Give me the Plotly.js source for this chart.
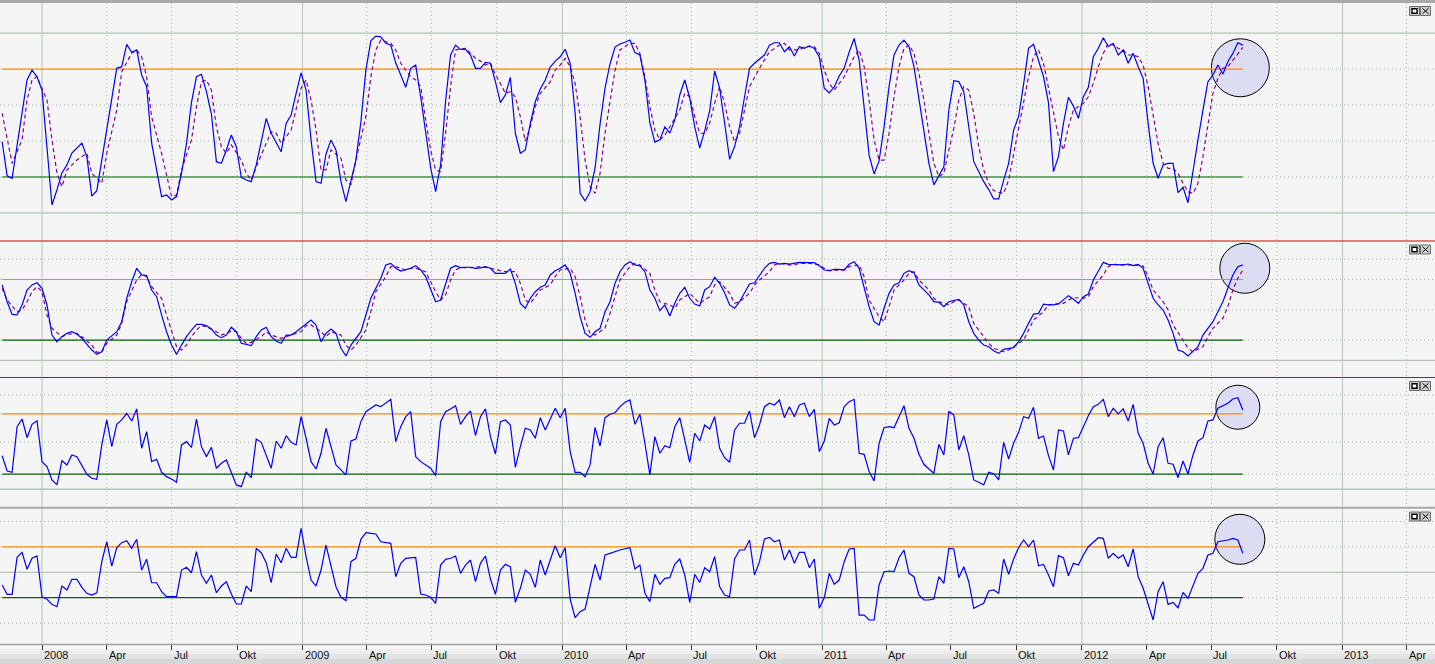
<!DOCTYPE html>
<html><head><meta charset="utf-8">
<script src="https://cdn.plot.ly/plotly-3.0.1.min.js"></script>
<style>html,body{margin:0;padding:0;background:#f5f5f5;overflow:hidden}#chart{width:1435px;height:664px}</style>
</head><body><div id="chart"></div>
<script>
// weekly bars, week 0 = 2007-11-06
const startDate = '2007-11-06';
const lastWeek = 249;

// Panel 1: stochastic %K (solid) and %D (dashed)
const p1K = [[0,39.6],[1,20.6],[2,19.3],[4,57.2],[5,73.9],[6,79.4],[7,75.7],[8,68.3],[9,35],[10,4.4],[11,12.8],[12,22.2],[13,26.7],[14,33.3],[16,38.9],[17,31.3],[18,9.4],[19,12.4],[20,29.4],[21,46.7],[22,62.8],[23,80.4],[24,81.3],[25,93.7],[26,89.3],[27,90.6],[28,76.7],[29,70.2],[30,38.9],[31,23.9],[32,9.1],[33,10],[34,7.2],[35,9.1],[36,22],[37,38.7],[38,61.5],[39,75.7],[40,77.1],[41,67.4],[42,55],[43,28.5],[44,27.6],[45,35],[46,43.3],[47,36.8],[48,19.8],[49,18.3],[50,17.4],[51,26.7],[52,38.9],[53,52.6],[54,44.3],[55,38.7],[56,34],[57,49.8],[58,54.4],[59,66.5],[60,77.9],[61,68.3],[62,40.6],[63,17.4],[64,16.5],[65,32.8],[66,40.6],[67,35],[68,17.4],[69,6.3],[70,18.3],[71,29.4],[72,50.6],[73,79.4],[74,95.7],[75,98.3],[76,97.9],[77,94.3],[78,93.3],[79,83.3],[80,76.7],[81,69.8],[82,80.4],[83,82.2],[84,64.6],[85,46.1],[86,25.2],[87,11.8],[88,26.7],[89,62.2],[90,87.8],[91,93.3],[92,90.9],[93,90.9],[94,87.8],[95,80.4],[96,80.4],[97,83.7],[98,83.2],[99,73],[100,61.3],[101,65.6],[102,75.4],[103,44.3],[104,33.2],[105,35],[106,49.8],[107,61.8],[108,68.9],[109,73.9],[110,81.1],[111,84.4],[112,86.8],[113,91],[114,83.2],[115,55.6],[116,10.9],[117,6.7],[118,11.8],[119,25],[120,49.4],[121,69.4],[122,82.8],[123,92.2],[124,93.9],[125,94.9],[126,96.1],[127,89.1],[128,87.8],[129,73.9],[130,50],[131,39.4],[132,40.6],[133,47.8],[134,44.4],[135,51.7],[136,65.6],[137,73.9],[138,63.9],[139,47.8],[140,36.1],[141,45.6],[142,56.7],[143,78.9],[144,69.4],[145,50],[146,29.8],[147,36.9],[148,47.9],[149,64.6],[150,80.4],[151,83.2],[152,85.3],[153,87.8],[154,93.3],[155,94.6],[156,94.6],[157,89.6],[158,92.4],[159,87.2],[160,92.4],[161,91.5],[162,92.9],[163,91.5],[164,86.7],[165,69.3],[166,66.7],[167,70],[168,76.1],[169,80.6],[170,89.4],[171,97],[172,85],[173,59.1],[174,32.2],[175,21.7],[176,28.9],[177,47.9],[178,70.2],[179,87.8],[180,93.3],[181,96.1],[182,92.4],[183,81.3],[184,62.8],[185,44.3],[186,27.6],[187,15.6],[188,21.1],[189,25.7],[190,57.2],[191,73.5],[192,73],[193,67.4],[194,47.9],[195,28.5],[197,17.4],[198,13],[199,7.8],[200,7.8],[201,18.3],[202,27.6],[203,46.1],[204,53.5],[205,71.5],[206,91.5],[207,93.7],[208,85],[209,75.7],[210,61.3],[211,23],[212,31.3],[213,49.8],[214,64.3],[215,59.4],[216,52.6],[217,64.6],[218,69.8],[219,86.8],[220,91.5],[221,97.4],[222,92.4],[223,94.3],[224,87.8],[225,90.6],[226,83.2],[227,88.7],[228,81.3],[229,74.8],[230,49.8],[231,27.6],[232,19.3],[233,26.7],[234,27.6],[235,27.6],[236,11.3],[237,14.3],[238,5.7],[239,22],[240,40.6],[241,57.2],[242,73],[243,76.7],[244,82.2],[245,77.2],[246,84.1],[247,88.7],[248,94.6],[249,93.3]];
const p1D = [[0,55.4],[2,27.6],[4,40.6],[5,62.8],[6,73.9],[7,75.7],[9,62.8],[10,40.6],[11,22.2],[12,14.6],[13,23.9],[15,29.4],[16,31.3],[17,33.2],[18,22],[20,16.5],[21,33.2],[23,57.2],[24,78.5],[26,88.7],[27,90.6],[28,86.8],[29,75.7],[30,53.5],[32,33.2],[33,20.2],[34,9.1],[35,10],[36,23.9],[38,40.6],[39,59.1],[40,72.9],[41,73.9],[42,68.3],[43,47.9],[44,36.8],[45,33.2],[46,37.8],[48,29.4],[49,22],[50,18.3],[51,25.7],[53,38.7],[54,45.2],[55,44.3],[56,38.7],[58,46.1],[59,57.2],[60,69.3],[61,73.9],[62,62.8],[63,46.1],[64,23.9],[65,23.9],[66,35],[68,30.4],[69,18.3],[70,15.6],[71,29.4],[73,53.5],[74,75.7],[75,90.6],[76,96.1],[78,94.3],[79,90.6],[80,83.2],[81,79.4],[82,75.7],[83,73.9],[84,70.2],[85,51.7],[86,35],[87,23.9],[88,22.9],[89,44.3],[90,70.2],[91,90.6],[93,91.5],[94,88.7],[95,86],[96,84.4],[97,82.2],[98,83.2],[99,77],[100,72],[101,66.5],[102,67.4],[103,64.6],[104,53.5],[105,40],[106,47.9],[107,59.1],[108,66.5],[110,72.9],[111,79.4],[112,82.2],[113,85.9],[114,81.3],[115,72],[116,53.5],[117,29.4],[118,14.6],[119,10.9],[120,22],[121,44.3],[122,62.8],[123,79.4],[124,90.6],[126,94.3],[127,94.3],[128,88.7],[129,75.7],[130,59.1],[131,46.1],[132,40.6],[133,43.3],[134,47.9],[136,57.2],[137,66.5],[138,64.6],[139,53.5],[140,44.3],[141,44.3],[142,49.8],[143,60.9],[144,70.2],[145,60.9],[146,47.9],[147,39.6],[148,44.3],[149,57.2],[150,70.2],[152,80.4],[153,85],[154,89.6],[156,93.3],[157,94.3],[158,90.6],[159,90.6],[160,90.6],[161,92.4],[163,92.4],[164,88.7],[165,79.4],[166,72],[167,68.3],[168,72],[169,75.7],[170,81.3],[171,86.8],[172,90.6],[173,81.3],[174,62.8],[175,40.6],[176,29.4],[177,29.4],[178,44.3],[179,64.6],[180,81.3],[181,91.5],[182,93.3],[183,88.7],[184,77.6],[185,62.8],[186,44.3],[187,27.6],[188,20.2],[189,22],[190,35],[191,47],[192,62.8],[193,70.2],[194,68.3],[195,55.4],[196,36.8],[197,23.9],[198,16.5],[199,12.5],[200,11.5],[201,10.9],[202,18.3],[203,33.2],[204,46.1],[205,60.9],[206,75.7],[207,86.8],[208,90.6],[209,83.2],[210,70.2],[211,55.4],[212,42.4],[213,35],[214,47.9],[215,57.2],[216,59.1],[217,60.9],[218,64.6],[219,72],[220,81.3],[221,88.7],[222,94.3],[223,93.3],[224,91.5],[225,90.6],[226,87.8],[227,87.8],[228,86.8],[229,82.2],[230,70.2],[231,53.5],[232,38.7],[233,27.6],[234,24.8],[235,24.8],[236,22],[237,16.5],[238,11.8],[239,10.9],[240,16.5],[241,31.3],[242,49.8],[243,66.5],[244,74.8],[245,80.4],[246,81.3],[247,85],[248,88.7],[249,92]];

// Panel 2: slow stochastic (solid) and signal (dashed)
const p2K = [[0,74.6],[1,58],[2,45.5],[3,44.9],[4,54.8],[5,69.6],[6,74.6],[7,76.8],[8,71.3],[9,54.8],[10,25],[11,18.4],[12,23.4],[13,26.7],[14,28.3],[15,26],[16,21.8],[18,10.2],[19,5.9],[20,8.5],[21,20.1],[23,28.3],[24,38.2],[25,61.4],[26,77.8],[27,91.1],[28,84.5],[29,83.8],[30,69.6],[31,63],[32,44.9],[33,28.3],[34,15.1],[35,5.9],[36,15.1],[37,23.4],[38,30],[39,35.6],[40,35.6],[41,34.3],[42,31],[43,25],[44,22.4],[45,25],[46,32.7],[47,28.3],[48,16.8],[49,15.8],[50,14.5],[51,23.4],[52,30],[53,32.7],[54,23.4],[55,19.1],[56,16.8],[57,25],[58,25],[59,28.3],[61,36.6],[62,39.9],[63,35],[64,18.4],[65,26.7],[66,31],[67,26.7],[68,11.9],[69,4.3],[70,15.1],[72,28.3],[73,44.9],[74,61.4],[76,81.2],[77,94.4],[78,96],[79,91.1],[80,88.4],[82,91.1],[83,93.7],[84,89.4],[85,82.8],[86,69.6],[87,58],[88,59.7],[89,74.6],[90,91.1],[91,93.7],[92,91.7],[93,92.1],[94,92.1],[95,91.1],[96,91.5],[97,92.7],[98,91.1],[99,86.1],[101,86.1],[102,90.4],[103,76.2],[104,56.4],[105,51.5],[106,61.4],[107,67.9],[108,72.3],[109,74.6],[110,84.5],[111,88.7],[112,91.1],[113,94.4],[114,86.1],[115,66.3],[116,43.2],[117,26.7],[118,22.8],[119,28.3],[120,31.7],[121,48.1],[122,58],[123,76.2],[124,87.7],[125,94.4],[126,97.6],[127,94.4],[128,93.4],[129,87.7],[130,69.6],[131,61.4],[132,49.1],[133,54.8],[134,43.9],[135,56.4],[136,66.3],[137,72.3],[138,61.4],[139,55.7],[140,53.8],[141,69.6],[142,72.9],[143,82.2],[144,76.2],[145,66.9],[146,54.8],[147,51.5],[148,58],[149,66.3],[150,75.5],[151,76.8],[152,84.5],[153,91.1],[154,96],[155,97],[156,95.3],[157,96],[158,95.3],[159,96],[160,97],[162,96.6],[163,96.6],[164,93.7],[165,89.4],[166,88.7],[167,90.1],[168,90.1],[169,89.4],[170,95],[171,97.6],[172,91.1],[173,72.9],[174,53.1],[175,38.2],[176,35],[177,51.5],[178,66.3],[179,74.6],[180,76.8],[181,86.1],[182,88.7],[183,86.7],[184,74.6],[186,64.7],[187,58],[188,57.4],[189,53.1],[190,58],[191,59],[192,60.4],[193,54.8],[194,38.2],[195,26.7],[196,20.1],[197,15.1],[198,13.5],[199,9.5],[200,6.9],[201,10.9],[202,11.9],[203,12.5],[204,18.4],[205,26.7],[206,36.6],[207,45.8],[208,46.5],[209,55.7],[210,54.8],[211,54.8],[212,55.7],[213,59.7],[214,64],[215,60.4],[216,56.4],[217,63],[218,65.6],[219,79.5],[220,87.7],[221,97],[222,95],[223,95],[224,94.4],[225,94.4],[226,95.3],[227,93.7],[228,95],[229,91.1],[230,76.2],[231,61.4],[232,54.8],[233,49.8],[234,39.9],[235,26.7],[236,10.2],[237,8.5],[238,4.3],[239,8.5],[240,13.5],[241,25],[242,31.7],[243,38.2],[244,48.1],[245,58],[246,71.3],[247,84.5],[248,92.7],[249,94.4]];
const p2D = [[0,71.3],[1,59.7],[3,48.1],[4,49.8],[5,58],[6,67.9],[7,72.9],[8,67.9],[9,44.9],[10,31.7],[12,23.4],[13,25.7],[15,26.7],[16,23.4],[18,15.1],[19,7.9],[20,8.5],[21,16.8],[23,25],[24,36.6],[25,58],[27,79.5],[28,85.1],[29,82.8],[30,72.9],[32,61.4],[33,44.9],[34,28.3],[35,13.5],[36,10.2],[37,15.1],[38,23.4],[39,30],[40,34.3],[41,33.3],[43,28.3],[44,25],[45,26.7],[46,29],[47,28.3],[48,21.8],[49,16.8],[50,17.8],[52,23.4],[53,28.3],[54,25],[56,21.8],[57,23.4],[58,25],[60,28.3],[61,34.3],[62,35],[64,28.3],[65,23.4],[66,28.3],[68,25],[69,15.1],[70,10.2],[71,15.1],[73,30],[74,48.1],[75,67.9],[77,82.8],[78,92.7],[79,92.7],[81,89.4],[82,91.1],[83,91.1],[85,87.7],[86,77.8],[87,67.9],[88,59.7],[89,64.7],[90,79.5],[91,89.4],[92,91.7],[94,91.7],[96,92.7],[98,91.1],[100,88.7],[101,87.7],[103,87.7],[104,76.2],[105,59.7],[106,56.4],[107,63],[108,69.6],[110,74.6],[111,82.8],[112,89.4],[114,91.1],[115,82.8],[116,63],[117,39.9],[118,26.7],[119,25],[121,31.7],[122,46.5],[123,63],[124,79.5],[126,92.7],[127,96],[128,94.4],[130,86.1],[131,69.6],[132,58],[134,54.8],[135,51.5],[136,59.7],[138,66.3],[139,61.4],[140,56.4],[142,63],[143,74.6],[144,77.8],[146,66.3],[147,56.4],[148,58],[150,66.3],[151,74.6],[152,79.5],[154,87.7],[155,94.4],[156,96],[158,94.4],[159,94.4],[160,96],[162,96],[164,94.4],[165,91.1],[166,88.7],[168,89.4],[169,89.4],[170,92.7],[172,94.4],[173,82.8],[174,59.7],[176,43.2],[177,38.2],[178,53.1],[179,69.6],[181,79.5],[182,86.1],[183,87.7],[184,79.5],[186,69.6],[187,61.4],[188,58],[190,54.8],[191,58],[192,59.7],[194,53.1],[195,36.6],[197,23.4],[198,16.8],[199,11.9],[201,8.5],[202,10.2],[203,13.5],[205,20.1],[206,30],[207,39.9],[209,48.1],[210,54.8],[211,55.7],[213,56.4],[214,59.7],[215,62],[217,61.4],[218,63],[219,72.9],[221,84.5],[222,92.7],[223,95],[225,94.4],[226,94.4],[227,94.4],[229,93.4],[230,82.8],[231,69.6],[233,58],[234,49.8],[235,35],[237,20.1],[238,11.9],[239,8.5],[241,13.5],[242,23.4],[243,31.7],[245,41.6],[246,53.1],[247,69.6],[248,81.2],[249,89.4]];

// Panel 3: oscillator
const p3V = [[0,35.6],[1,19.4],[2,18],[3,66.4],[4,74.5],[5,54.7],[6,68.9],[7,72.7],[8,29.3],[9,24],[10,9.9],[11,4.6],[12,30.3],[13,25.8],[14,36.4],[15,34.6],[17,15.9],[18,11.7],[19,10.6],[20,47],[21,73.5],[22,45.2],[23,68.9],[24,73.5],[25,80.6],[26,72.4],[27,85.2],[28,43.5],[29,61.1],[30,29.3],[31,31.8],[32,18],[33,13.4],[34,10.9],[35,7.4],[36,47],[37,50.5],[38,44.5],[39,74.5],[40,45.2],[41,34.6],[42,44.5],[43,22.3],[44,27.6],[45,31.1],[46,17],[47,4.6],[48,2.8],[49,18],[50,12.3],[51,53.3],[52,49.8],[53,36.4],[54,22.3],[55,51.2],[56,43.5],[57,56.8],[58,49.8],[59,47],[60,77],[61,54.1],[62,29.3],[63,21.5],[64,38.2],[65,64.7],[66,45.2],[67,25.8],[68,20.5],[69,15.2],[70,51.2],[71,53.3],[72,71.7],[73,82.3],[74,85.9],[75,89.4],[76,87.6],[77,91.2],[78,95.4],[79,50.5],[80,66.4],[81,77],[82,82.3],[83,34.6],[84,29.3],[86,22.3],[87,14.4],[88,71.7],[89,82.3],[90,85.2],[91,88.7],[92,68.9],[93,77],[94,83],[95,56.8],[96,77],[97,85.2],[98,55.8],[99,37.4],[100,71.7],[101,73.5],[102,68.2],[103,23.3],[104,45.2],[105,64.7],[106,62.9],[107,54.1],[108,75.9],[109,62.9],[111,85.9],[112,75.9],[113,85.9],[114,39.9],[115,18],[116,18],[117,13.4],[118,25.8],[119,65.7],[120,45.9],[121,75.9],[122,79.5],[123,81.2],[124,87.6],[125,92.3],[126,94.7],[127,68.9],[128,79.5],[129,48.8],[130,15.2],[131,55.8],[132,38.2],[133,46.2],[134,44.1],[135,66.4],[136,75.9],[137,52.3],[138,28.6],[139,59.4],[140,51.2],[141,68.2],[142,63.9],[143,77],[144,43.5],[145,33.5],[146,28.6],[147,62.9],[148,70],[149,70],[150,83],[151,54.7],[152,68.2],[153,87.6],[154,91.2],[155,89.4],[156,94.7],[157,75.9],[158,87.6],[159,77],[160,89.4],[161,91.2],[162,77],[163,84.8],[164,39.9],[165,51.2],[166,75.3],[167,68.2],[168,70.6],[169,87.6],[170,92.9],[171,95.4],[172,38.2],[173,37.1],[174,18.7],[175,8.8],[176,48.8],[177,65.3],[178,66.4],[179,65.3],[180,77],[181,88.7],[182,64.7],[183,54.1],[184,37.1],[185,26.5],[186,21.5],[187,17],[188,47.7],[189,36.4],[190,82.3],[191,78.8],[192,41.7],[193,56.8],[194,36.4],[195,9.9],[196,7.4],[197,4.6],[198,18],[199,16.5],[200,9.9],[201,49.8],[202,32.1],[203,48.8],[204,60.4],[205,77],[206,75.3],[207,87],[208,54.1],[209,56.5],[210,35.6],[211,20.5],[212,62.9],[213,61.8],[214,36.4],[215,54.1],[216,54.7],[217,66.4],[218,78],[219,87.6],[220,90.1],[221,95.4],[222,77],[223,85.9],[224,79.9],[225,85.2],[226,72.4],[227,90.1],[228,59.4],[229,48.8],[230,27.6],[231,16.2],[232,45.2],[233,54.7],[234,27.6],[235,26.5],[236,12.3],[237,30],[238,16.2],[239,36.4],[240,51.2],[241,54.7],[242,72.4],[243,73.5],[244,85.9],[246,91.2],[247,95.8],[248,97.1],[249,84.1]];

// Panel 4: centred oscillator
const p4V = [[0,-25],[1,-43.3],[2,-43.3],[3,29.5],[4,39.4],[5,5.9],[6,27.6],[7,32.1],[8,-48],[9,-53.1],[10,-63],[11,-67.7],[12,-27],[13,-34.8],[14,-13.8],[15,-13.8],[16,-29.5],[17,-41.3],[18,-44.7],[19,-40.2],[20,20.9],[21,60.2],[22,12.4],[23,48.4],[24,58.3],[25,62.2],[26,47.2],[27,65],[28,4.5],[29,25.6],[30,-20.5],[31,-20.5],[32,-38.2],[33,-48],[35,-48],[36,4.5],[37,9.8],[38,-0.8],[39,40.6],[40,-5.3],[41,-21.7],[42,-5.3],[43,-40.2],[44,-27],[45,-18.5],[46,-42.7],[47,-62.4],[48,-62.4],[49,-27],[50,-38.2],[51,47.2],[52,38.6],[53,18.9],[54,-20.5],[55,36],[56,18.9],[57,47.2],[58,29.5],[59,29.5],[60,86.6],[61,30.7],[62,-15.2],[63,-27],[64,4.5],[65,53.7],[66,11],[67,-28.3],[68,-49.2],[69,-55.9],[70,20.9],[71,27.6],[72,65],[73,78],[74,76.8],[75,75.4],[76,60.2],[77,58.3],[78,57.1],[79,-8.7],[80,17.7],[81,27.6],[83,29.5],[84,-42.7],[85,-44.7],[86,-49.2],[87,-61],[88,14.4],[89,25.6],[90,27.6],[91,32.1],[92,-2],[93,14.4],[94,24.2],[95,-18.5],[96,17.7],[97,32.1],[98,-13.2],[99,-43.3],[100,4.5],[101,15.7],[102,11],[103,-59.1],[104,-31.5],[105,4.5],[106,-3.9],[107,-29.5],[108,24.2],[109,-5.3],[110,24.2],[111,52.4],[112,28.7],[113,48.4],[114,-52.6],[115,-89.4],[116,-77.6],[117,-72.2],[118,-28.3],[119,15.7],[120,-15.2],[121,34.1],[122,37.4],[123,40.6],[124,43.9],[126,48.4],[127,6.5],[128,14.4],[129,-41.3],[130,-57.9],[131,-3.9],[132,-23.6],[133,-11.8],[134,-10.6],[135,15.7],[136,26.2],[137,-5.3],[138,-59.1],[139,-3.9],[140,-19.7],[141,9.1],[142,1.2],[143,30.7],[144,-28.3],[145,-44.7],[146,-48],[147,26.2],[148,43.9],[149,43.9],[150,63.6],[151,-5.3],[152,20.9],[153,65.6],[154,68.9],[155,60.2],[156,63.6],[157,24.2],[158,43.9],[159,17.7],[160,39.4],[161,39.4],[162,9.1],[163,26.2],[164,-70.9],[165,-50],[166,-2],[167,-23.6],[168,-15.2],[169,20.9],[170,45.9],[171,47.2],[172,-84.1],[173,-84.1],[174,-93.9],[175,-93.9],[176,-25],[177,1.2],[178,2.6],[179,1.2],[180,28.7],[181,43.9],[182,-2],[183,-8.7],[184,-44.7],[185,-54.5],[186,-54.5],[187,-52.6],[188,-8.7],[189,-21.7],[190,47.2],[191,45.9],[192,-10.6],[193,11],[194,-18.5],[195,-70.9],[196,-65.7],[197,-61],[198,-36.8],[199,-34.8],[200,-41.3],[201,26.2],[202,-3.9],[203,26.2],[204,48.4],[205,63.6],[206,50.4],[207,63.6],[208,13],[209,15.7],[210,-5.3],[211,-28.3],[212,32.7],[213,28.7],[214,-6.7],[215,17.7],[216,14.4],[217,34.1],[218,50.4],[220,68.1],[221,66.9],[222,27.6],[223,37.4],[224,27.6],[225,34.1],[226,11],[227,45.9],[228,-8.7],[229,-31.5],[230,-64.4],[231,-93.9],[232,-38.2],[233,-18.5],[234,-63],[235,-59.1],[236,-69.7],[237,-39.4],[238,-51.2],[239,-25],[240,-2],[241,7.9],[242,34.1],[243,37.4],[244,60.2],[246,63.6],[247,66.9],[248,63.6],[249,37.4]];

// Axis tick labels
const tickDates = ['2008-01-01','2008-04-01','2008-07-01','2008-10-01','2009-01-01','2009-04-01','2009-07-01','2009-10-01','2010-01-01','2010-04-01','2010-07-01','2010-10-01','2011-01-01','2011-04-01','2011-07-01','2011-10-01','2012-01-01','2012-04-01','2012-07-01','2012-10-01','2013-01-01','2013-04-01'];
const tickLabels = ['2008','Apr','Jul','Okt','2009','Apr','Jul','Okt','2010','Apr','Jul','Okt','2011','Apr','Jul','Okt','2012','Apr','Jul','Okt','2013','Apr'];

// Reference levels per panel
const p1Levels = {over:80, under:20};
const p2Levels = {over:80, under:20};
const p3Levels = {over:80, under:16};
const p4Levels = {over:50, under:-50};
// marker circles (week, value) at the end of each series
const circleMarks = [{w:248.5, v:80.7}, {w:249.4, v:91.1}, {w:248, v:87}, {w:248.4, v:65}];

// ---------- build ----------
const W = 1435, H = 644;
const t0 = Date.UTC(2007, 10, 6);
function wkDate(w){
  const d = new Date(t0 + w*7*864e5);
  return d.toISOString().slice(0,19).replace('T',' ');
}
const px = x => x / W;
const py = y => 1 - y / H;

const panels = [
  {top:3,     bot:240.5, range:[-15.3,116.7], solid:[0,100], dotted:[20,40,60,80], lev:p1Levels, r:29},
  {top:241.5, bot:377,   range:[-16.5,117.6], solid:[0],     dotted:[20,50,80,100], lev:p2Levels, r:25},
  {top:378,   bot:507,   range:[-18.8,118],   solid:[0],     dotted:[16,50,80,100], lev:p3Levels, r:22},
  {top:508.5, bot:644,   range:[-141.1,125.6],solid:[0],     dotted:[-100,-50,50,100], lev:p4Levels, r:25}
];

const BLUE = '#0000ff', PURPLE = '#8b008b', ORANGE = '#ff8c00', GREEN = '#006400';
const GRIDS = '#b3c6b3', GRIDD = '#9fb89f';

function tr(arr, yax, color, dash){
  return {x: arr.map(p => wkDate(p[0])), y: arr.map(p => p[1]), xaxis:'x', yaxis:yax,
    type:'scatter', mode:'lines', line:{color:color, width:1.2, dash:dash||'solid'}, hoverinfo:'skip'};
}
const data = [
  tr(p1D,'y','#8b008b','4px,3px'), tr(p1K,'y',BLUE),
  tr(p2D,'y2','#8b008b','4px,3px'), tr(p2K,'y2',BLUE),
  tr(p3V,'y3',BLUE),
  tr(p4V,'y4',BLUE)
];

const layout = {
  width:W, height:664, margin:{l:0,r:0,t:0,b:20,pad:0},
  paper_bgcolor:'#f5f5f5', plot_bgcolor:'#f5f5f5', showlegend:false,
  font:{family:'Liberation Sans, Arial, sans-serif', size:11, color:'#111'},
  xaxis:{type:'date', range:['2007-11-03','2013-05-11'], anchor:'y4', showgrid:false, zeroline:false,
    showline:false, showticklabels:false, ticks:'outside', ticklen:5, tickwidth:1, tickcolor:'#333',
    tickmode:'array', tickvals:tickDates, fixedrange:true},
  shapes:[], annotations:[]
};
const yNames = ['yaxis','yaxis2','yaxis3','yaxis4'];
const yRefs = ['y','y2','y3','y4'];
panels.forEach((p,i) => {
  layout[yNames[i]] = {domain:[py(p.bot), py(p.top)], range:p.range, anchor:'x', showgrid:false,
    zeroline:false, showticklabels:false, ticks:'', showline:false, fixedrange:true};
});

const S = layout.shapes;
// vertical grid
tickDates.forEach((d,i) => {
  const isYear = /^\d{4}$/.test(tickLabels[i]);
  S.push({type:'line', xref:'x', yref:'paper', x0:d, x1:d, y0:0, y1:1, layer:'below',
    line:{color:isYear?GRIDS:GRIDD, width:1, dash:isYear?'solid':'1px,3px'}});
});
panels.forEach((p,i) => {
  const yr = yRefs[i];
  p.solid.forEach(v => S.push({type:'line', xref:'paper', yref:yr, x0:0, x1:1, y0:v, y1:v, layer:'below',
    line:{color:GRIDS, width:1.3}}));
  p.dotted.forEach(v => S.push({type:'line', xref:'paper', yref:yr, x0:0, x1:1, y0:v, y1:v, layer:'below',
    line:{color:GRIDD, width:1, dash:'1px,3px'}}));
  const c = circleMarks[i];
  S.push({type:'circle', xref:'x', yref:yr, xsizemode:'pixel', ysizemode:'pixel',
    xanchor:wkDate(c.w), yanchor:c.v, x0:-p.r, x1:p.r, y0:-p.r, y1:p.r, layer:'below',
    fillcolor:'#dcdcf2', line:{color:'#000', width:1}});
  S.push({type:'line', xref:'x', yref:yr, x0:wkDate(0), x1:wkDate(lastWeek), y0:p.lev.over, y1:p.lev.over,
    layer:'below', line:{color:ORANGE, width:1.2}});
  S.push({type:'line', xref:'x', yref:yr, x0:wkDate(0), x1:wkDate(lastWeek), y0:p.lev.under, y1:p.lev.under,
    layer:'below', line:{color:GREEN, width:1.2}});
});
// frame / separators
S.push({type:'rect', xref:'paper', yref:'paper', x0:0, x1:1, y0:py(3), y1:1, layer:'above', line:{width:0}, fillcolor:'#a9a9a9'});
S.push({type:'line', xref:'paper', yref:'paper', x0:0, x1:1, y0:py(241), y1:py(241), layer:'above', line:{color:'#e00000', width:1.2}});
S.push({type:'line', xref:'paper', yref:'paper', x0:0, x1:1, y0:py(377.5), y1:py(377.5), layer:'above', line:{color:'#e00000', width:1.2}});
S.push({type:'line', xref:'paper', yref:'paper', x0:0, x1:1, y0:py(507.7), y1:py(507.7), layer:'above', line:{color:'#a9a9a9', width:2}});
// bottom strip gradient
const bands = [['#f7f7f7',644,649],['#efefef',649,654],['#e4e4e4',654,659],['#d6d6d6',659,664]];
bands.forEach(b => S.push({type:'rect', xref:'paper', yref:'paper', x0:0, x1:1, y0:py(b[2]), y1:py(b[1]), layer:'below', line:{width:0}, fillcolor:b[0]}));
S.push({type:'line', xref:'paper', yref:'paper', x0:0, x1:1, y0:py(644.5), y1:py(644.5), layer:'above', line:{color:'#a0a0a0', width:1.6}});
// window buttons
panels.forEach(p => {
  const y0 = p.top + 3.5, y1 = p.top + 12.5;
  [[1409.5,1419.5],[1420.5,1430.5]].forEach((bx,k) => {
    S.push({type:'rect', xref:'paper', yref:'paper', x0:px(bx[0]), x1:px(bx[1]), y0:py(y1), y1:py(y0), layer:'above',
      fillcolor:'#cfcfcf', line:{color:'#6a6a6a', width:1}});
    if (k === 0) {
      S.push({type:'rect', xref:'paper', yref:'paper', x0:px(bx[0]+2.5), x1:px(bx[1]-2.5), y0:py(y1-2.2), y1:py(y0+2.2), layer:'above',
        fillcolor:'#ffffff', line:{color:'#000', width:1.4}});
    } else {
      S.push({type:'line', xref:'paper', yref:'paper', x0:px(bx[0]+2), x1:px(bx[1]-2), y0:py(y0+1.8), y1:py(y1-1.8), layer:'above', line:{color:'#000', width:1}});
      S.push({type:'line', xref:'paper', yref:'paper', x0:px(bx[0]+2), x1:px(bx[1]-2), y0:py(y1-1.8), y1:py(y0+1.8), layer:'above', line:{color:'#000', width:1}});
    }
  });
});
// tick labels
tickDates.forEach((d,i) => {
  layout.annotations.push({xref:'x', yref:'paper', x:d, y:py(655), xanchor:'left', yanchor:'middle',
    text:tickLabels[i], showarrow:false, xshift:0, font:{family:'Liberation Sans, Arial, sans-serif', size:11, color:'#111'}});
});

Plotly.newPlot('chart', data, layout, {staticPlot:true, displayModeBar:false});
</script>
</body></html>
